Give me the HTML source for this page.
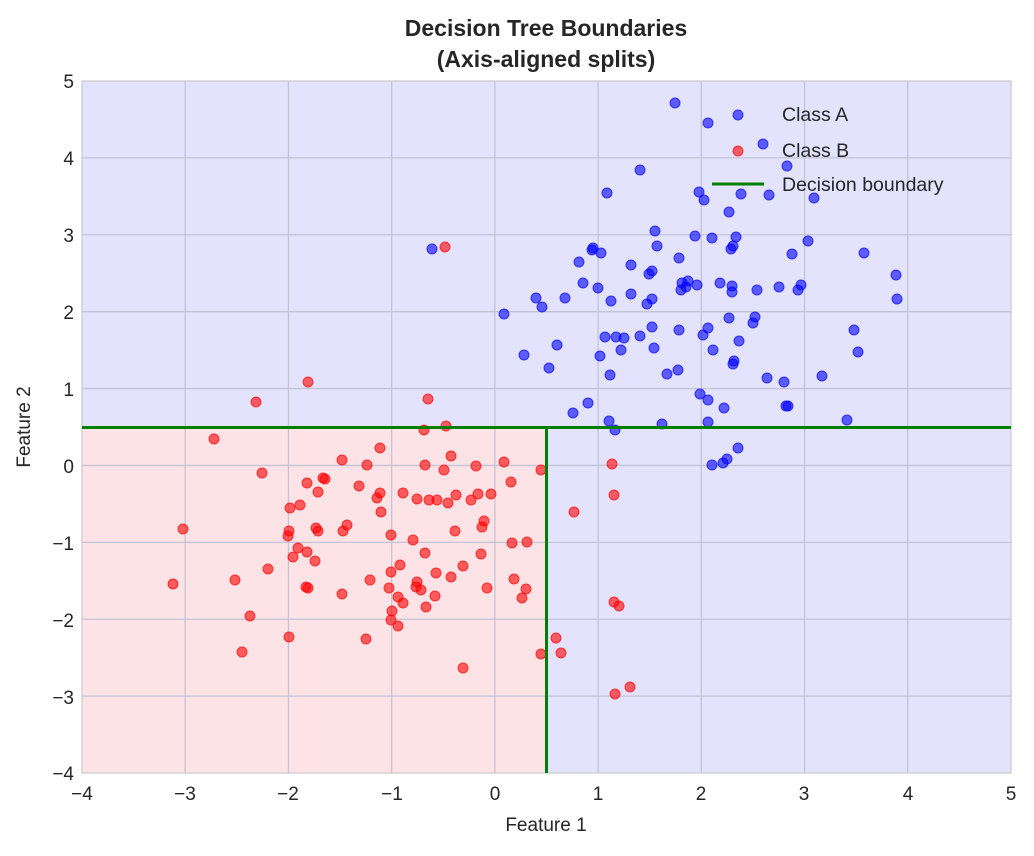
<!DOCTYPE html>
<html><head><meta charset="utf-8"><style>
body{margin:0;background:#fff;}
svg text{font-family:"Liberation Sans","DejaVu Sans",sans-serif;fill:#262626;}
</style></head><body>
<svg id="s" width="1034" height="851" xmlns="http://www.w3.org/2000/svg">
<rect x="0" y="0" width="1034" height="851" fill="#fff"/>
<rect x="82" y="81" width="929" height="692" fill="#e3e3fe"/>
<rect x="82" y="427" width="464.5" height="346" fill="#fee3e6"/>
<g id="grid" stroke="#c3c3d6" stroke-width="1.3"></g>
<rect x="82" y="81" width="929" height="692" fill="none" stroke="#cccccc" stroke-width="1.3"/>
<g id="pts"></g>
<line x1="82" y1="427.5" x2="1011" y2="427.5" stroke="#008000" stroke-width="3"/>
<line x1="546.5" y1="427.5" x2="546.5" y2="773" stroke="#008000" stroke-width="3"/>
<g font-size="19" text-anchor="middle">
<text x="82" y="800">−4</text><text x="185" y="800">−3</text><text x="288" y="800">−2</text><text x="392" y="800">−1</text><text x="495" y="800">0</text><text x="598" y="800">1</text><text x="701" y="800">2</text><text x="804" y="800">3</text><text x="908" y="800">4</text><text x="1011" y="800">5</text>
</g>
<g font-size="19" text-anchor="end">
<text x="74" y="88">5</text><text x="74" y="165">4</text><text x="74" y="242">3</text><text x="74" y="319">2</text><text x="74" y="396">1</text><text x="74" y="473">0</text><text x="74" y="550">−1</text><text x="74" y="627">−2</text><text x="74" y="704">−3</text><text x="74" y="780">−4</text>
</g>
<text x="546" y="831" font-size="19" text-anchor="middle">Feature 1</text>
<text transform="translate(30,427) rotate(-90)" font-size="19" text-anchor="middle">Feature 2</text>
<text x="546" y="36" font-size="23" font-weight="bold" text-anchor="middle">Decision Tree Boundaries</text>
<text x="546" y="67" font-size="23" font-weight="bold" text-anchor="middle">(Axis-aligned splits)</text>
<circle cx="738" cy="115" r="5" fill="rgba(0,0,255,0.6)" stroke="#0000ff" stroke-opacity="0.7"/>
<circle cx="738" cy="151" r="5" fill="rgba(255,0,0,0.6)" stroke="#ff0000" stroke-opacity="0.7"/>
<line x1="712" y1="184" x2="764" y2="184" stroke="#008000" stroke-width="3"/>
<g font-size="19.5"><text x="782" y="121">Class A</text><text x="782" y="157">Class B</text><text x="782" y="191">Decision boundary</text></g>
</svg>
<script>
var g=document.getElementById('grid'),ns='http://www.w3.org/2000/svg';
function L(a,b,c,d){var l=document.createElementNS(ns,'line');l.setAttribute('x1',a);l.setAttribute('y1',b);l.setAttribute('x2',c);l.setAttribute('y2',d);g.appendChild(l);}
for(var i=1;i<9;i++){var x=82+i*103.22;L(x,81,x,773);var y=81+i*76.89;L(82,y,1011,y);}
var B=[[675,103],[708,123],[763,144],[787,166],[640,170],[607,193],[699,192],[704,200],[741,194],[769,195],[729,212],[814,198],[655,231],[736,237],[695,236],[712,238],[657,246],[601,253],[731,249],[733,246],[808,241],[864,253],[792,254],[679,258],[579,262],[593,248],[592,250],[631,265],[652,271],[649,274],[720,283],[732,286],[688,281],[681,290],[682,283],[686,287],[697,285],[598,288],[583,283],[565,298],[536,298],[732,292],[757,290],[779,287],[801,285],[798,290],[896,275],[897,299],[504,314],[542,307],[652,299],[631,294],[611,301],[647,304],[755,317],[753,323],[729,318],[652,327],[679,330],[616,337],[605,337],[640,336],[624,338],[708,328],[703,335],[854,330],[557,345],[739,341],[654,348],[734,361],[858,352],[713,350],[621,350],[524,355],[600,356],[549,368],[610,375],[667,374],[678,370],[733,364],[767,378],[784,382],[822,376],[700,394],[708,400],[573,413],[588,403],[609,421],[615,430],[662,424],[724,408],[708,422],[786,406],[788,406],[847,420],[738,448],[727,459],[723,463],[712,465],[432,249]];
var R=[[445,247],[308,382],[256,402],[428,399],[446,426],[424,430],[214,439],[380,448],[451,456],[342,460],[262,473],[367,465],[504,462],[612,464],[541,470],[444,470],[476,466],[425,465],[325,479],[323,478],[307,483],[359,486],[318,492],[403,493],[456,495],[437,500],[491,494],[478,494],[380,493],[614,495],[429,500],[448,503],[471,500],[377,498],[290,508],[300,505],[417,499],[316,528],[511,482],[381,512],[347,525],[343,531],[484,521],[574,512],[183,529],[289,531],[318,531],[288,536],[293,557],[298,548],[391,535],[455,531],[482,527],[413,540],[425,553],[307,552],[315,561],[268,569],[512,543],[527,542],[481,554],[400,565],[370,580],[463,566],[436,573],[451,577],[235,580],[173,584],[417,582],[416,587],[514,579],[391,572],[308,588],[306,587],[342,594],[421,590],[389,588],[526,589],[522,598],[435,596],[487,588],[398,597],[403,603],[426,607],[392,611],[250,616],[614,602],[619,606],[391,620],[398,626],[289,637],[366,639],[556,638],[463,668],[242,652],[541,654],[561,653],[615,694],[630,687]];
var p=document.getElementById('pts');
function C(a,col,ed){a.forEach(function(q){var c=document.createElementNS(ns,'circle');c.setAttribute('cx',q[0]);c.setAttribute('cy',q[1]);c.setAttribute('r',5);c.setAttribute('fill',col);c.setAttribute('stroke',ed);c.setAttribute('stroke-opacity','0.7');p.appendChild(c);});}
C(B,'rgba(0,0,255,0.6)','#0000ff');C(R,'rgba(255,0,0,0.6)','#ff0000');
</script>
</body></html>
